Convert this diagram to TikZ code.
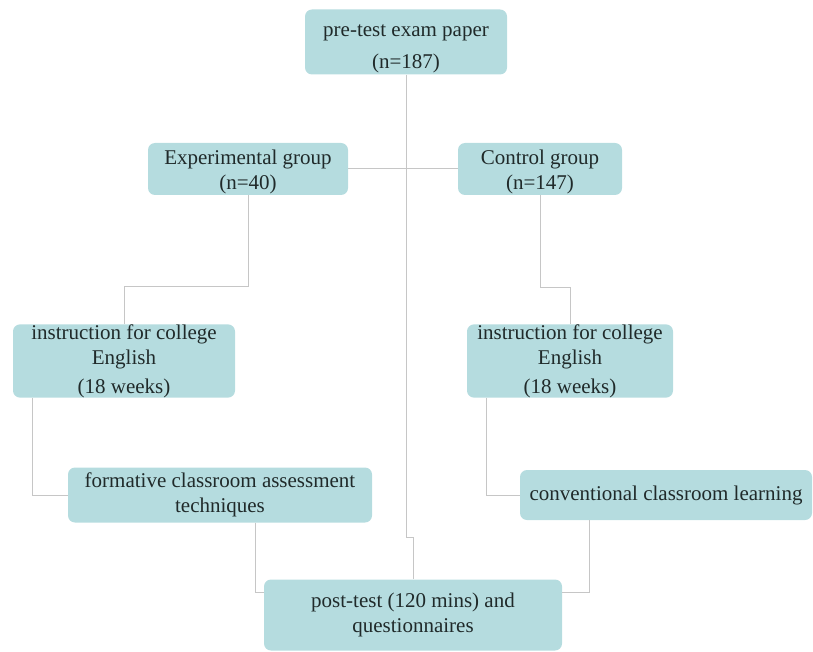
\documentclass[tikz,border=0pt]{standalone}
\usepackage{fontspec}
\setmainfont{Liberation Serif}
\usepackage{xcolor}
\definecolor{boxfill}{RGB}{181,220,223}
\definecolor{boxtext}{RGB}{32,42,42}
\definecolor{linkgray}{RGB}{198,198,198}
\tikzset{
  stagebox/.style={fill=boxfill, rounded corners=7pt, inner sep=0pt, align=center,
    text=boxtext, font=\fontsize{21}{25}\selectfont},
  link/.style={draw=linkgray, line width=1pt}
}
\begin{document}
\begin{tikzpicture}[x=1pt,y=-1pt]
              \useasboundingbox (0,0) rectangle (813,652);
              \node[stagebox, minimum width=202pt, minimum height=65pt] (pre) at (406,42) {\rule{0pt}{26pt}pre-test exam paper\\[7pt](n=187)};
              \node[stagebox, minimum width=200pt, minimum height=52pt] (exp) at (248,169) {\rule{0pt}{20pt}Experimental group\\(n=40)};
              \node[stagebox, minimum width=164pt, minimum height=52pt] (ctl) at (540,169) {\rule{0pt}{20pt}Control group\\(n=147)};
              \node[stagebox, minimum width=222pt, minimum height=72pt] (insL) at (124,361) {instruction for college\\English\\[4pt](18 weeks)};
              \node[stagebox, minimum width=206pt, minimum height=72pt] (insR) at (570,361) {instruction for college\\English\\[4pt](18 weeks)};
              \node[stagebox, minimum width=304pt, minimum height=55pt] (form) at (220,495) {formative classroom assessment\\techniques};
              \node[stagebox, minimum width=292pt, minimum height=50pt] (conv) at (666,495) {conventional classroom learning};
              \node[stagebox, minimum width=298pt, minimum height=71pt] (post) at (413,615) {post-test (120 mins) and\\questionnaires};
              \coordinate (jog) at (413,537);
              \draw[link] (pre.south) |- (jog) -- (post.north);
              \draw[link] (exp.east) -- (ctl.west);
              \draw[link] (exp.south) -- (exp.south |- 0,286) -| (insL.north);
              \draw[link] (ctl.south) -- (ctl.south |- 0,287) -| (insR.north);
              \draw[link] ([xshift=20pt]insL.south west) |- (form.west);
              \draw[link] ([xshift=20pt]insR.south west) |- (conv.west);
              \draw[link] ([xshift=-117pt]form.south east) |- ([yshift=-13pt]post.north west);
              \draw[link] ([xshift=70pt]conv.south west) |- ([yshift=-13pt]post.north east);
            \end{tikzpicture}
\end{document}
